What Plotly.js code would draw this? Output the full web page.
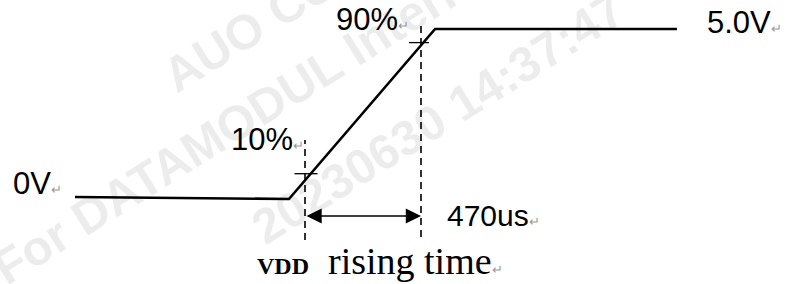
<!DOCTYPE html>
<html>
<head>
<meta charset="utf-8">
<script src="https://cdn.plot.ly/plotly-3.0.1.min.js"></script>
<style>html,body{margin:0;padding:0;background:#fff;}#chart{width:789px;height:284px;}</style>
</head>
<body>
<div id="chart"></div>
<script>
// ---- data (time in microseconds, supply voltage in volts) ----
const timeUs = [-932, -65, 527, 1507];          // waveform corner times
const voltsV = [0.06, 0.0, 5.0, 5.0];           // waveform voltages
const markTimes = [0, 470];                     // 10% and 90% crossing times
const markLevels = [0.7, 4.6];                  // level of the small tick marks
const markLabels = ['10%', '90%'];
const levelLabels = ['0V', '5.0V'];
const riseTimeLabel = '470us';
const captionSmallCaps = 'VDD';
const captionText = 'rising time';
const watermarkLines = ['AUO Confidential', 'For DATAMODUL Internal Use', '20230630 14:37:47'];

// ---- layout scale (pixel geometry of the picture) ----
const W = 789, H = 284;
const X0PX = 305, US_PER_PX = 470 / 116;
const Y0PX = 199, V_PER_PX = 1 / 34;
const xRange = [(0 - X0PX) * US_PER_PX, (W - X0PX) * US_PER_PX];
const yRange = [(Y0PX - H) * V_PER_PX, Y0PX * V_PER_PX];
const px = x => x / W;            // pixel -> paper x
const py = y => 1 - y / H;        // pixel -> paper y
const tPx = p => p * US_PER_PX;   // pixel length -> us
const vPx = p => p * V_PER_PX;    // pixel length -> volts

const RET = '<span style="font-size:13px;color:#9a9a9a">↵</span>';
const labelFont = {family: 'Arial, Liberation Sans, sans-serif', size: 31, color: '#000'};

const traces = [{
  x: timeUs, y: voltsV, type: 'scatter', mode: 'lines',
  line: {color: '#000', width: 2.6}, hoverinfo: 'skip', showlegend: false
}];

const shapes = [];
// dashed verticals at the 10% / 90% crossings
const dashTop = [vPx(Y0PX - 140), vPx(Y0PX - 25)];
const dashBot = [vPx(Y0PX - 240), vPx(Y0PX - 237)];
markTimes.forEach((t, i) => {
  shapes.push({type: 'line', xref: 'x', yref: 'y', x0: t, x1: t, y0: dashBot[i], y1: dashTop[i],
    line: {color: '#000', width: 1.6, dash: '7px,5px'}});
});
// small horizontal tick marks
const tickCenter = [markTimes[0] + tPx(1), markTimes[1] - tPx(2)];
const tickHalf = [tPx(11.5), tPx(10)];
const tickLevelAdj = [vPx(1.5), 0];
markLevels.forEach((v, i) => {
  shapes.push({type: 'line', xref: 'x', yref: 'y', x0: tickCenter[i] - tickHalf[i], x1: tickCenter[i] + tickHalf[i],
    y0: v + tickLevelAdj[i], y1: v + tickLevelAdj[i], line: {color: '#000', width: 1.3}});
});

const arrowY = vPx(Y0PX - 216);
const annotations = [];

// faint diagonal watermark (drawn first, underneath the labels)
const wmCenters = [[340, -28], [292, 88], [438, 118]];
watermarkLines.forEach((txt, i) => {
  annotations.push({xref: 'paper', yref: 'paper', x: px(wmCenters[i][0]), y: py(wmCenters[i][1]),
    xanchor: 'center', yanchor: 'middle', textangle: -32, text: '<b>' + txt + '</b>', showarrow: false,
    font: {family: 'Arial, Liberation Sans, sans-serif', size: 49, color: 'rgba(0,0,0,0.075)'}});
});

annotations.push(
  // double-headed rise-time arrow
  {xref: 'x', yref: 'y', axref: 'x', ayref: 'y', x: markTimes[1], y: arrowY, ax: markTimes[0], ay: arrowY,
   text: '', showarrow: true, arrowhead: 2, startarrowhead: 2, arrowside: 'end+start',
   arrowwidth: 1.6, arrowsize: 1.9, startarrowsize: 1.9, standoff: 0, startstandoff: 0, arrowcolor: '#000'},
  {xref: 'paper', yref: 'paper', x: px(11), y: py(183), xanchor: 'left', yanchor: 'middle',
   text: levelLabels[0] + RET, showarrow: false, font: labelFont},
  {xref: 'paper', yref: 'paper', x: px(705), y: py(22), xanchor: 'left', yanchor: 'middle',
   text: levelLabels[1] + RET, showarrow: false, font: labelFont},
  {xref: 'paper', yref: 'paper', x: px(229), y: py(139), xanchor: 'left', yanchor: 'middle',
   text: markLabels[0] + RET, showarrow: false, font: labelFont},
  {xref: 'paper', yref: 'paper', x: px(334), y: py(19), xanchor: 'left', yanchor: 'middle',
   text: markLabels[1] + RET, showarrow: false, font: labelFont},
  {xref: 'paper', yref: 'paper', x: px(445), y: py(215), xanchor: 'left', yanchor: 'middle',
   text: riseTimeLabel + RET, showarrow: false, font: {family: labelFont.family, size: 30, color: '#000'}},
  {xref: 'paper', yref: 'paper', x: px(255), y: py(261), xanchor: 'left', yanchor: 'middle',
   text: '<span style="font-size:24px;font-weight:bold">' + captionSmallCaps + '</span>  ' + captionText + RET,
   showarrow: false, font: {family: 'Liberation Serif, Times New Roman, serif', size: 38, color: '#000'}}
);

const layout = {
  width: W, height: H, margin: {l: 0, r: 0, t: 0, b: 0, pad: 0},
  paper_bgcolor: '#fff', plot_bgcolor: '#fff', showlegend: false,
  xaxis: {range: xRange, visible: false, fixedrange: true},
  yaxis: {range: yRange, visible: false, fixedrange: true},
  shapes: shapes, annotations: annotations
};

Plotly.newPlot('chart', traces, layout, {staticPlot: true, displayModeBar: false});
</script>
</body>
</html>
